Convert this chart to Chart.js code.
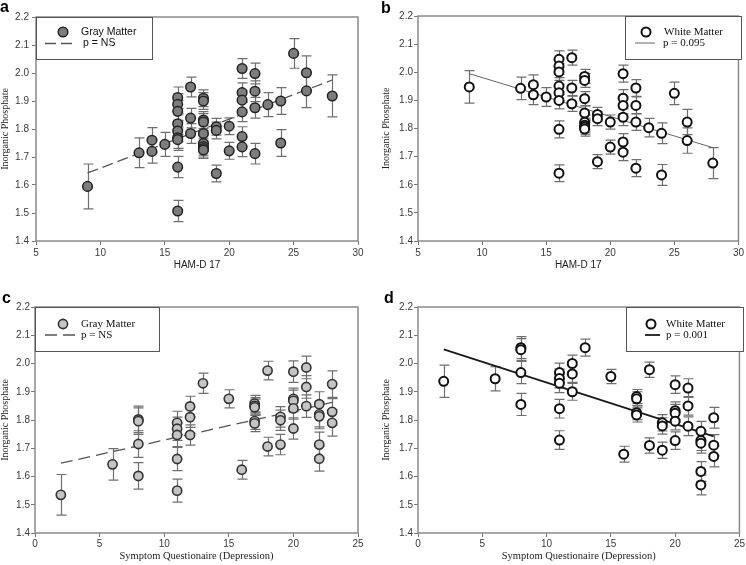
<!DOCTYPE html>
<html><head><meta charset="utf-8">
<script src="https://cdn.jsdelivr.net/npm/chart.js@4.4.1/dist/chart.umd.min.js"></script>
<style>
html,body{margin:0;padding:0;background:#fff;}
#wrap{position:relative;width:746px;height:565px;overflow:hidden;background:#fff;}
canvas{position:absolute;}
.lab{position:absolute;font:bold 16px "Liberation Sans",Arial,sans-serif;line-height:16px;color:#000;}
</style></head><body>
<div id="wrap">
<canvas id="ca" width="373" height="282" style="left:0;top:0"></canvas>
<canvas id="cb" width="373" height="282" style="left:373px;top:0"></canvas>
<canvas id="cc" width="373" height="283" style="left:0;top:282px"></canvas>
<canvas id="cd" width="373" height="283" style="left:373px;top:282px"></canvas>
<div class="lab" style="left:0;top:-1px">a</div>
<div class="lab" style="left:381px;top:0">b</div>
<div class="lab" style="left:2px;top:290px">c</div>
<div class="lab" style="left:384px;top:290px">d</div>
</div>
<script>
// ---- tick labels ----
const hamTicks = [5, 10, 15, 20, 25, 30];
const symTicks = [0, 5, 10, 15, 20, 25];
const phosTicks = [1.4, 1.5, 1.6, 1.7, 1.8, 1.9, 2.0, 2.1, 2.2];

// ---- panel a: Gray Matter vs HAM-D 17 ----
const gmHamX = [9,13,14,14,15,16,16,16,16,16,16,16,16,16,17,17,17,18,18,18,18,18,18,18,18,18,19,19,19,20,20,21,21,21,21,21,21,22,22,22,22,23,24,24,25,26,26,28];
const gmHamY = [1.595,1.715,1.760,1.720,1.745,1.912,1.888,1.863,1.819,1.793,1.769,1.762,1.664,1.507,1.950,1.839,1.784,1.910,1.900,1.832,1.825,1.784,1.748,1.737,1.730,1.725,1.808,1.795,1.641,1.810,1.722,2.016,1.930,1.903,1.861,1.773,1.736,1.998,1.935,1.876,1.712,1.887,1.900,1.750,2.070,2.001,1.936,1.918];
const gmHamErr = [0.080,0.053,0.045,0.042,0.043,0.038,0.038,0.038,0.038,0.038,0.038,0.038,0.038,0.038,0.035,0.035,0.035,0.030,0.030,0.030,0.030,0.030,0.030,0.030,0.030,0.030,0.030,0.030,0.030,0.030,0.030,0.035,0.035,0.035,0.035,0.035,0.035,0.037,0.037,0.037,0.037,0.043,0.048,0.048,0.053,0.060,0.060,0.075];
const gmHamFit = [[9, 1.643], [28, 1.975]];

// ---- panel b: White Matter vs HAM-D 17 ----
const wmHamX = [9,13,14,14,15,16,16,16,16,16,16,16,16,17,17,17,18,18,18,18,18,18,18,18,19,19,19,20,20,21,21,21,21,21,21,22,22,22,22,23,24,24,25,26,26,28];
const wmHamY = [1.948,1.943,1.956,1.920,1.912,2.046,2.022,2.001,1.951,1.927,1.900,1.797,1.641,2.052,1.944,1.888,1.985,1.971,1.906,1.855,1.822,1.812,1.805,1.798,1.850,1.835,1.682,1.823,1.734,1.995,1.908,1.882,1.840,1.752,1.716,1.944,1.882,1.823,1.659,1.803,1.783,1.635,1.925,1.823,1.757,1.677];
const wmHamErr = [0.058,0.040,0.035,0.035,0.033,0.030,0.030,0.030,0.030,0.030,0.030,0.030,0.030,0.027,0.027,0.027,0.025,0.025,0.025,0.025,0.025,0.025,0.025,0.025,0.025,0.025,0.025,0.025,0.025,0.030,0.030,0.030,0.030,0.030,0.030,0.030,0.030,0.030,0.030,0.033,0.037,0.037,0.040,0.045,0.045,0.055];
const wmHamFit = [[9, 1.995], [28, 1.732]];

// ---- panel c: Gray Matter vs Symptom Questionaire ----
const gmSymX = [2,6,8,8,8,8,11,11,11,11,11,12,12,12,13,15,16,17,17,17,17,17,18,18,19,19,19,20,20,20,20,20,21,21,21,22,22,22,22,22,23,23,23];
const gmSymY = [1.535,1.643,1.802,1.796,1.715,1.602,1.790,1.769,1.747,1.662,1.550,1.848,1.810,1.747,1.930,1.875,1.624,1.858,1.850,1.845,1.796,1.788,1.975,1.706,1.811,1.799,1.713,1.971,1.875,1.868,1.841,1.770,1.986,1.917,1.849,1.856,1.820,1.813,1.713,1.663,1.927,1.829,1.790];
const gmSymErr = [0.072,0.056,0.047,0.047,0.047,0.047,0.041,0.041,0.041,0.041,0.041,0.036,0.036,0.036,0.036,0.032,0.033,0.029,0.029,0.029,0.029,0.029,0.033,0.033,0.036,0.036,0.036,0.038,0.038,0.038,0.038,0.038,0.040,0.040,0.040,0.044,0.044,0.044,0.044,0.044,0.047,0.047,0.047];
const gmSymFit = [[2, 1.647], [23, 1.862]];

// ---- panel d: White Matter vs Symptom Questionaire ----
const wmSymX = [2,6,8,8,8,8,11,11,11,11,11,12,12,12,13,15,16,17,17,17,17,18,18,19,19,19,20,20,20,20,20,21,21,21,22,22,22,22,22,23,23,23];
const wmSymY = [1.937,1.946,2.056,2.049,1.968,1.855,1.968,1.947,1.930,1.840,1.729,2.000,1.963,1.900,2.056,1.954,1.679,1.883,1.875,1.826,1.818,1.978,1.710,1.790,1.779,1.693,1.925,1.833,1.824,1.796,1.727,1.913,1.850,1.778,1.760,1.727,1.718,1.618,1.570,1.808,1.711,1.671];
const wmSymErr = [0.057,0.043,0.039,0.039,0.039,0.039,0.033,0.033,0.033,0.033,0.033,0.030,0.030,0.030,0.030,0.025,0.028,0.025,0.025,0.025,0.025,0.027,0.027,0.029,0.029,0.029,0.031,0.031,0.031,0.031,0.031,0.033,0.033,0.033,0.035,0.035,0.035,0.035,0.035,0.037,0.037,0.037];
const wmSymFit = [[2, 2.050], [23, 1.742]];

const SANS = '"Liberation Sans", Arial, sans-serif';
const SERIF = '"Liberation Serif", "Times New Roman", serif';

function makePanel(id, c) {
  const canvas = document.getElementById(id);
  const W = canvas.width, H = canvas.height;
  const A = c.area;
  const pts = c.x.map((xv, i) => ({x: xv, y: c.y[i]}));

  const errPlugin = {
    id: 'errbars_' + id,
    beforeDatasetsDraw(chart) {
      const {ctx, scales: {x, y}, chartArea} = chart;
      ctx.save();
      ctx.strokeStyle = '#8a8a8a';
      ctx.lineWidth = 1.5;
      ctx.strokeRect(chartArea.left, chartArea.top, chartArea.right - chartArea.left, chartArea.bottom - chartArea.top);
      ctx.strokeStyle = '#707070';
      ctx.lineWidth = 1.2;
      c.x.forEach((xv, i) => {
        const px = Math.round(x.getPixelForValue(xv)) + 0.5;
        const y1 = y.getPixelForValue(c.y[i] - c.err[i]);
        const y2 = y.getPixelForValue(c.y[i] + c.err[i]);
        ctx.beginPath();
        ctx.moveTo(px, y1); ctx.lineTo(px, y2);
        ctx.moveTo(px - 5, y1); ctx.lineTo(px + 5, y1);
        ctx.moveTo(px - 5, y2); ctx.lineTo(px + 5, y2);
        ctx.stroke();
      });
      ctx.restore();
    }
  };

  const legendPlugin = {
    id: 'legendbox_' + id,
    afterDatasetsDraw(chart) {
      const ctx = chart.ctx, L = c.legend;
      ctx.save();
      const [bx1, by1, bx2, by2] = L.box;
      ctx.fillStyle = '#fff';
      ctx.fillRect(bx1, by1, bx2 - bx1, by2 - by1);
      ctx.strokeStyle = '#555';
      ctx.lineWidth = 1;
      ctx.strokeRect(bx1 + 0.5, by1 + 0.5, bx2 - bx1, by2 - by1);
      ctx.beginPath();
      ctx.arc(L.marker[0], L.marker[1], c.r, 0, Math.PI * 2);
      ctx.fillStyle = c.fill; ctx.fill();
      ctx.strokeStyle = c.stroke; ctx.lineWidth = c.bw; ctx.stroke();
      ctx.beginPath();
      ctx.setLineDash(c.dash);
      ctx.strokeStyle = c.lineColor; ctx.lineWidth = c.lineWidth;
      ctx.moveTo(L.line[0], L.line[2]); ctx.lineTo(L.line[1], L.line[2]);
      ctx.stroke();
      ctx.setLineDash([]);
      ctx.fillStyle = '#111';
      ctx.font = L.font;
      ctx.textBaseline = 'middle';
      ctx.textAlign = 'left';
      ctx.fillText(L.t1[0], L.t1[1], L.t1[2]);
      ctx.fillText(L.t2[0], L.t2[1], L.t2[2]);
      ctx.restore();
    }
  };

  new Chart(canvas, {
    type: 'scatter',
    data: {
      datasets: [
        {label: c.name, data: pts, pointRadius: c.r, pointHoverRadius: c.r,
         pointBackgroundColor: c.fill, pointBorderColor: c.stroke, pointBorderWidth: c.bw,
         showLine: false, order: 0},
        {label: 'fit', type: 'line', data: c.fit.map(([xv, yv]) => ({x: xv, y: yv})),
         borderColor: c.lineColor, borderWidth: c.lineWidth, borderDash: c.dash,
         pointRadius: 0, fill: false, tension: 0, order: 1}
      ]
    },
    options: {
      responsive: false, animation: false, events: [],
      layout: {padding: {top: A.top, right: W - A.right, left: 0, bottom: 0}},
      plugins: {legend: {display: false}, tooltip: {enabled: false}},
      scales: {
        x: {
          type: 'linear', min: c.xTicks[0], max: c.xTicks[c.xTicks.length - 1],
          afterFit: s => { s.height = H - A.bottom; },
          afterBuildTicks: s => { s.ticks = c.xTicks.map(v => ({value: v})); },
          ticks: {font: {family: SANS, size: 10}, color: '#3a3a3a', padding: c.xPad, maxRotation: 0,
                  callback: v => String(v)},
          grid: {display: true, drawOnChartArea: false, drawTicks: true, tickLength: 4, color: '#777'},
          border: {display: false},
          title: {display: true, text: c.xTitle, color: '#222',
                  font: {family: c.xTitleFont, size: c.xTitleSize, lineHeight: 1},
                  padding: {top: 0, bottom: c.xTitlePad}}
        },
        y: {
          type: 'linear', min: 1.4, max: 2.2,
          afterFit: s => { s.width = A.left; },
          afterBuildTicks: s => { s.ticks = phosTicks.map(v => ({value: v})); },
          ticks: {font: {family: SANS, size: 10}, color: '#3a3a3a', padding: c.yPad,
                  callback: v => Number(v).toFixed(1)},
          grid: {display: true, drawOnChartArea: false, drawTicks: true, tickLength: 4, color: '#777'},
          border: {display: false},
          title: {display: true, text: 'Inorganic Phosphate', color: '#222',
                  font: {family: SERIF, size: 10, lineHeight: 1},
                  padding: {top: c.yTitlePad, bottom: 0}}
        }
      }
    },
    plugins: [errPlugin, legendPlugin]
  });
}

makePanel('ca', {
  name: 'Gray Matter', x: gmHamX, y: gmHamY, err: gmHamErr, fit: gmHamFit, xTicks: hamTicks,
  area: {left: 36, top: 17, right: 358, bottom: 241},
  r: 4.8, fill: '#7d7d7d', stroke: '#222', bw: 1.5,
  lineColor: '#555', lineWidth: 1.3, dash: [11, 5],
  xTitle: 'HAM-D 17', xTitleFont: SANS, xTitleSize: 10, xTitlePad: 12, xPad: 2, yPad: 3, yTitlePad: 0,
  legend: {box: [36, 17, 152, 59], marker: [63, 32], line: [45, 77, 43.5],
           t1: ['Gray Matter', 81, 32], t2: ['p = NS', 83, 43.5], font: '10.5px ' + SANS}
});

makePanel('cb', {
  name: 'White Matter', x: wmHamX, y: wmHamY, err: wmHamErr, fit: wmHamFit, xTicks: hamTicks,
  area: {left: 45, top: 16, right: 368, bottom: 241},
  r: 4.5, fill: '#fff', stroke: '#111', bw: 2,
  lineColor: '#666', lineWidth: 1, dash: [],
  xTitle: 'HAM-D 17', xTitleFont: SANS, xTitleSize: 10, xTitlePad: 12, xPad: 2, yPad: 1, yTitlePad: 8,
  legend: {box: [252, 16, 368, 59], marker: [273, 32], line: [262, 282, 43],
           t1: ['White Matter', 291, 32], t2: ['p = 0.095', 290, 43], font: '11px ' + SERIF}
});

makePanel('cc', {
  name: 'Gray Matter', x: gmSymX, y: gmSymY, err: gmSymErr, fit: gmSymFit, xTicks: symTicks,
  area: {left: 35, top: 25, right: 358, bottom: 251},
  r: 4.6, fill: '#c4c4c4', stroke: '#333', bw: 1.6,
  lineColor: '#555', lineWidth: 1.3, dash: [12, 6],
  xTitle: 'Symptom Questionaire (Depression)', xTitleFont: SERIF, xTitleSize: 10.5, xTitlePad: 4, xPad: 1, yPad: 1, yTitlePad: 0,
  legend: {box: [35, 25, 159, 69], marker: [63, 42], line: [45, 77, 53],
           t1: ['Gray Matter', 81, 42], t2: ['p = NS', 81, 53], font: '11px ' + SERIF}
});

makePanel('cd', {
  name: 'White Matter', x: wmSymX, y: wmSymY, err: wmSymErr, fit: wmSymFit, xTicks: symTicks,
  area: {left: 45, top: 25, right: 368, bottom: 251},
  r: 4.5, fill: '#fff', stroke: '#111', bw: 2,
  lineColor: '#1a1a1a', lineWidth: 1.8, dash: [],
  xTitle: 'Symptom Questionaire (Depression)', xTitleFont: SERIF, xTitleSize: 10.5, xTitlePad: 4, xPad: 1, yPad: 1, yTitlePad: 8,
  legend: {box: [253, 25, 370, 69], marker: [278, 42], line: [272, 287, 53],
           t1: ['White Matter', 293, 42], t2: ['p = 0.001', 293, 53], font: '11px ' + SERIF}
});
</script>
</body></html>
